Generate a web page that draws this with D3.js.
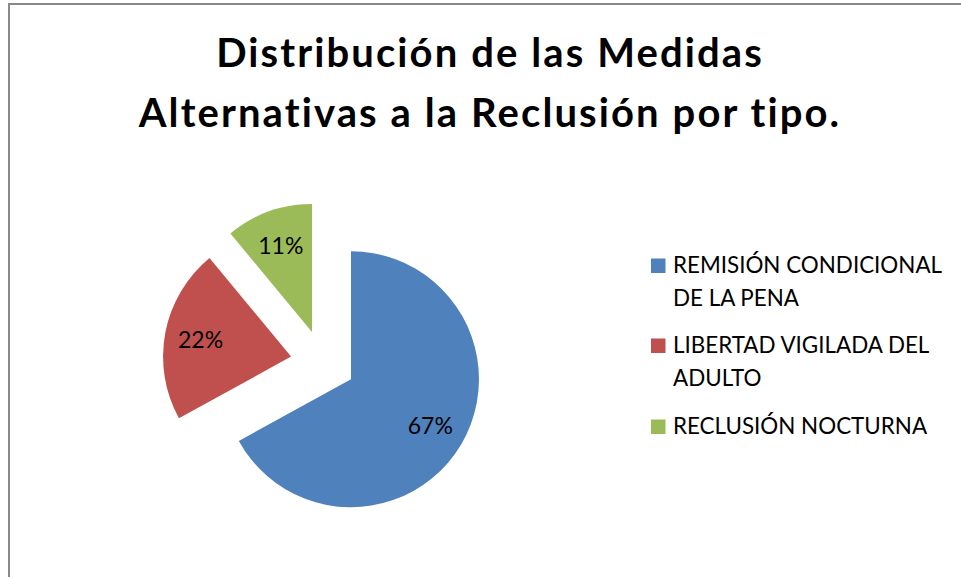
<!DOCTYPE html>
<html>
<head>
<meta charset="utf-8">
<script src="https://cdn.jsdelivr.net/npm/d3@7"></script>
<style>
  html, body { margin: 0; padding: 0; background: #fff; overflow: hidden; }
  svg { display: block; font-family: Lato, "Open Sans", sans-serif; }
</style>
</head>
<body>
<div id="app"></div>
<script>
const d3 = window.d3;

// chart data
const categories = [
  "REMISIÓN CONDICIONAL DE LA PENA",
  "LIBERTAD VIGILADA DEL ADULTO",
  "RECLUSIÓN NOCTURNA",
];
const values = [67, 22, 11];
const legendLines = [
  ["REMISIÓN CONDICIONAL", "DE LA PENA"],
  ["LIBERTAD VIGILADA DEL", "ADULTO"],
  ["RECLUSIÓN NOCTURNA"],
];
const titleLines = [
  "Distribución de las Medidas",
  "Alternativas a la Reclusión por tipo.",
];
const colors = ["#4F81BD", "#C0504D", "#9BBB59"];

const width = 961;
const height = 577;
const pie = { cx: 323, cy: 362.7, r: 128, explode: 32.5 };

const svg = d3
  .select("#app")
  .append("svg")
  .attr("width", width)
  .attr("height", height);

// chart area border (runs off the right and bottom edges)
svg
  .append("rect")
  .attr("x", 9)
  .attr("y", 4)
  .attr("width", 1000)
  .attr("height", 1000)
  .attr("fill", "#fff")
  .attr("stroke", "#898989")
  .attr("stroke-width", 2);

// title
svg
  .append("text")
  .attr("text-anchor", "middle")
  .attr("font-weight", "bold")
  .attr("font-size", 40)
  .attr("letter-spacing", 2.1)
  .attr("fill", "#000")
  .selectAll("tspan")
  .data(titleLines)
  .join("tspan")
  .attr("x", 490)
  .attr("y", (d, i) => 67 + i * 60)
  .text((d) => d);

const color = d3.scaleOrdinal().domain(categories).range(colors);

const arcs = d3
  .pie()
  .sort(null)
  .value((d) => d)(values);

const arc = d3.arc().innerRadius(0).outerRadius(pie.r);
const offsetArc = d3.arc().innerRadius(pie.explode).outerRadius(pie.explode);
const labelArc = d3
  .arc()
  .innerRadius(pie.r * 0.72)
  .outerRadius(pie.r * 0.72);

const slices = svg
  .append("g")
  .attr("transform", `translate(${pie.cx}, ${pie.cy})`)
  .selectAll("g")
  .data(arcs)
  .join("g")
  .attr("transform", (d) => `translate(${offsetArc.centroid(d)})`);

slices
  .append("path")
  .attr("d", arc)
  .attr("fill", (d, i) => color(categories[i]));

slices
  .append("text")
  .attr("transform", (d) => `translate(${labelArc.centroid(d)})`)
  .attr("text-anchor", "middle")
  .attr("dy", "0.36em")
  .attr("font-size", 23)
  .attr("fill", "#000")
  .text((d) => Math.round(d.data) + "%");

// legend
const legendTop = [273, 353, 434];
const legend = svg
  .append("g")
  .selectAll("g")
  .data(categories)
  .join("g")
  .attr("transform", (d, i) => `translate(651, ${legendTop[i]})`);

legend
  .append("rect")
  .attr("x", 0)
  .attr("y", -14.5)
  .attr("width", 14.5)
  .attr("height", 14.5)
  .attr("fill", (d) => color(d));

legend
  .append("text")
  .attr("font-size", 22.4)
  .attr("fill", "#000")
  .selectAll("tspan")
  .data((d, i) => legendLines[i])
  .join("tspan")
  .attr("x", 22)
  .attr("y", (d, i) => i * 32.5)
  .text((d) => d);
</script>
</body>
</html>
